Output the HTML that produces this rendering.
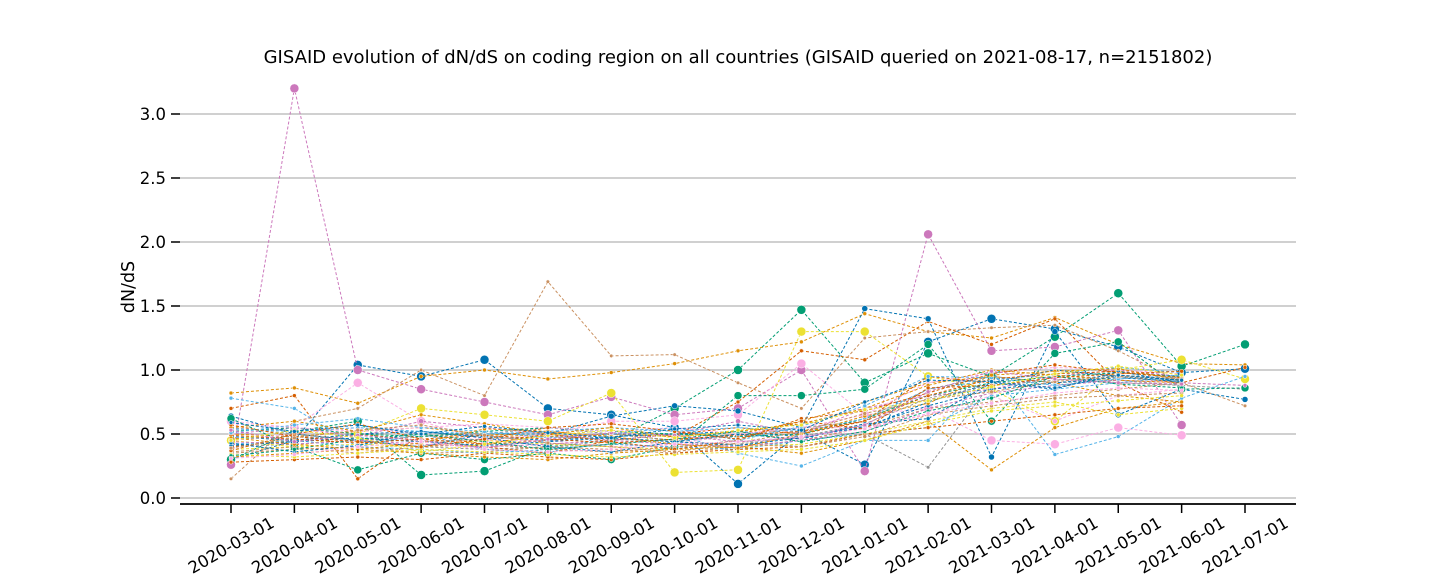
<!DOCTYPE html>
<html><head><meta charset="utf-8"><style>
body{margin:0;background:#fff}
svg{display:block;font-family:"DejaVu Sans","Liberation Sans",sans-serif}
</style></head><body>
<svg id="chart" width="1440" height="576" viewBox="0 0 1440 576">
<text x="738" y="63" text-anchor="middle" font-size="18">GISAID evolution of dN/dS on coding region on all countries (GISAID queried on 2021-08-17, n=2151802)</text>
<text transform="translate(134,287) rotate(-90)" text-anchor="middle" font-size="17.5">dN/dS</text>
<g id="grid"></g>
<g id="series"></g>
<g id="axes"></g>
</svg>
<script>
const categories=["2020-03-01","2020-04-01","2020-05-01","2020-06-01","2020-07-01","2020-08-01","2020-09-01","2020-10-01","2020-11-01","2020-12-01","2021-01-01","2021-02-01","2021-03-01","2021-04-01","2021-05-01","2021-06-01","2021-07-01"];
const yTicks=[0,0.5,1,1.5,2,2.5,3];
const yTickLabels=["0.0","0.5","1.0","1.5","2.0","2.5","3.0"];
const colors=["#0173b2","#de8f05","#029e73","#d55e00","#cc78bc","#ca9161","#fbafe4","#949494","#ece133","#56b4e9"];
const s0=[0.30,0.45,1.04,0.95,1.08,0.70,0.65,0.55,0.11,0.52,0.26,1.22,1.40,1.32,1.18,0.98,1.01];
const s1=[0.82,0.86,0.74,0.95,1.00,0.93,0.98,1.05,1.15,1.22,1.44,1.30,1.25,1.41,1.20,1.05,1.04];
const s2=[0.30,0.52,0.60,0.18,0.21,0.40,0.45,0.70,1.00,1.47,0.90,1.13,0.95,1.26,1.60,1.03,1.20];
const s3=[0.70,0.80,0.15,0.50,0.42,0.45,0.50,0.48,0.75,1.15,1.08,1.38,1.20,1.40,0.90,0.67,null];
const s4=[0.26,3.20,1.00,0.85,0.75,0.65,0.79,0.65,0.70,1.00,0.21,2.06,1.15,1.18,1.31,0.57,null];
const s5=[0.15,0.60,0.70,1.00,0.80,1.69,1.11,1.12,0.90,0.70,1.25,1.30,1.33,1.35,1.15,0.90,0.72];
const s6=[0.60,0.55,0.90,0.60,0.45,0.50,0.60,0.60,0.65,1.05,0.65,0.70,0.45,0.42,0.55,0.49,null];
const s7=[0.40,0.42,0.45,0.40,0.38,0.40,0.42,0.40,0.45,0.40,0.50,0.24,0.90,0.95,0.90,0.88,0.85];
const s8=[0.45,0.40,0.50,0.70,0.65,0.60,0.82,0.20,0.22,1.30,1.30,0.95,0.85,0.60,1.00,1.08,0.93];
const s9=[0.78,0.70,0.40,0.50,0.38,0.35,0.50,0.50,0.35,0.25,0.45,0.45,1.00,0.34,0.48,0.78,0.95];
const s10=[0.64,0.50,0.45,0.40,0.50,0.50,0.64,0.72,0.68,0.55,1.48,1.40,0.32,1.30,0.65,0.85,0.77];
const s11=[0.50,0.48,0.52,0.55,0.50,0.48,0.50,0.45,0.50,0.60,0.75,0.90,0.95,0.90,0.80,0.75,null];
const s12=[0.62,0.40,0.22,0.35,0.30,0.35,0.30,0.40,0.80,0.80,0.85,1.20,0.60,1.13,1.22,0.85,0.86];
const s13=[0.40,0.45,0.50,0.45,0.40,0.35,0.45,0.50,0.55,0.50,0.60,0.95,0.90,1.00,0.95,0.90,1.02];
const s14=[0.50,0.55,0.48,0.60,0.55,0.50,0.45,0.50,0.60,0.50,0.70,0.80,0.85,0.95,1.00,0.95,null];
const s15=[0.35,0.38,0.40,0.35,0.36,0.40,0.38,0.35,0.40,0.45,0.55,0.70,0.75,0.80,0.85,0.90,null];
const s16=[0.45,0.50,0.55,0.50,0.45,0.45,0.40,0.42,0.50,0.55,0.55,0.65,0.80,0.60,0.80,0.85,null];
const s17=[0.55,0.50,0.45,0.48,0.50,0.55,0.50,0.45,0.48,0.55,0.60,0.85,0.95,0.90,0.92,0.88,null];
const s18=[0.38,0.40,0.42,0.40,0.45,0.42,0.40,0.38,0.40,0.42,0.50,0.60,0.70,0.75,0.65,0.70,null];
const s19=[0.42,0.45,0.40,0.38,0.35,0.38,0.42,0.40,0.38,0.45,0.50,0.55,0.80,0.85,0.90,0.95,null];
const s20=[0.48,0.45,0.50,0.52,0.48,0.45,0.48,0.50,0.52,0.48,0.55,0.75,0.90,1.00,0.95,0.92,null];
const s21=[0.32,0.35,0.38,0.35,0.32,0.30,0.35,0.38,0.40,0.35,0.45,0.60,0.22,0.55,0.70,0.75,null];
const s22=[0.52,0.55,0.50,0.48,0.52,0.55,0.52,0.50,0.48,0.50,0.62,0.80,0.90,0.95,0.98,0.95,null];
const s23=[0.28,0.30,0.32,0.30,0.35,0.32,0.30,0.35,0.38,0.40,0.50,0.55,0.60,0.65,0.70,0.72,null];
const s24=[0.44,0.42,0.45,0.42,0.40,0.42,0.45,0.42,0.40,0.45,0.52,0.70,0.82,0.88,0.92,0.90,0.88];
const s25=[0.36,0.40,0.35,0.40,0.42,0.38,0.36,0.40,0.42,0.40,0.48,0.65,0.72,0.78,0.80,0.82,null];
const s26=[0.58,0.55,0.52,0.55,0.58,0.55,0.52,0.55,0.50,0.55,0.65,0.90,0.98,1.02,1.00,0.97,null];
const s27=[0.46,0.48,0.46,0.44,0.46,0.48,0.46,0.44,0.42,0.48,0.58,0.78,0.88,0.92,0.96,0.93,null];
const s28=[0.34,0.32,0.35,0.38,0.36,0.34,0.32,0.34,0.36,0.38,0.45,0.58,0.68,0.72,0.76,0.80,null];
const s29=[0.54,0.52,0.55,0.52,0.50,0.52,0.55,0.52,0.55,0.52,0.62,0.85,0.92,0.97,1.02,0.98,null];
const s30=[0.41,0.44,0.47,0.44,0.41,0.44,0.47,0.44,0.41,0.47,0.56,0.72,0.85,0.90,0.94,0.91,null];
const s31=[0.49,0.46,0.43,0.46,0.49,0.46,0.43,0.46,0.49,0.52,0.60,0.80,0.93,0.97,0.99,0.94,null];
const s32=[0.55,0.60,0.52,0.65,0.58,0.50,0.55,0.48,0.52,0.58,0.70,0.88,1.00,0.96,0.92,0.90,null];
const s33=[0.37,0.50,0.58,0.46,0.42,0.50,0.44,0.38,0.45,0.62,0.68,0.82,0.97,1.04,0.98,0.94,null];
const s34=[0.43,0.36,0.41,0.52,0.47,0.40,0.36,0.44,0.50,0.46,0.58,0.62,0.90,0.85,0.99,0.90,null];
const s35=[0.51,0.57,0.62,0.55,0.52,0.47,0.50,0.55,0.45,0.56,0.72,0.95,0.94,0.88,0.93,0.96,null];
const s36=[0.33,0.38,0.46,0.50,0.44,0.38,0.42,0.46,0.52,0.44,0.52,0.68,0.78,0.95,0.89,0.86,null];
const s37=[0.47,0.42,0.38,0.43,0.54,0.52,0.48,0.42,0.39,0.50,0.64,0.74,0.96,0.99,1.01,0.92,null];
const s38=[0.57,0.48,0.44,0.40,0.46,0.55,0.58,0.52,0.46,0.60,0.54,0.86,0.88,0.94,0.97,0.99,null];
const s39=[0.39,0.47,0.53,0.57,0.49,0.43,0.40,0.36,0.43,0.52,0.66,0.77,0.83,0.91,0.95,0.93,null];
const s40=[0.53,0.44,0.49,0.45,0.39,0.46,0.51,0.49,0.44,0.47,0.57,0.83,0.99,0.93,0.90,0.89,null];
const s41=[0.45,0.53,0.47,0.36,0.42,0.49,0.53,0.47,0.53,0.57,0.69,0.76,0.87,0.97,1.03,0.96,null];
const s42=[0.31,0.34,0.40,0.44,0.38,0.36,0.38,0.42,0.44,0.48,0.54,0.66,0.74,0.82,0.86,0.84,null];
const s43=[0.59,0.52,0.57,0.50,0.56,0.51,0.47,0.54,0.57,0.53,0.75,0.92,0.91,0.86,0.96,0.92,null];
const seriesList=[s0,s1,s2,s3,s4,s5,s6,s7,s8,s9,s10,s11,s12,s13,s14,s15,s16,s17,s18,s19,s20,s21,s22,s23,s24,s25,s26,s27,s28,s29,s30,s31,s32,s33,s34,s35,s36,s37,s38,s39,s40,s41,s42,s43];
const seriesColor=[0,1,2,3,4,5,6,7,8,9,0,1,2,3,4,5,6,7,8,9,0,1,2,3,4,5,6,7,8,9,0,3,1,3,0,9,2,1,3,5,4,8,6,0];
const markerSize=[4.5,2,4.5,2,4.5,1.8,4.5,1.8,4.5,2,3,2,4,2,2.5,2,2.5,2,2,2,2,2,2,2,2,2,2,2,2,2,2,2,2,2,2,2,2,2,2,2,2,2,2,2];

const NS="http://www.w3.org/2000/svg";
const x0=231,dx=(1245-231)/16,yZero=498,yUnit=128;
const xs=i=>x0+i*dx, ys=v=>yZero-v*yUnit;
function mk(t,a,p){const e=document.createElementNS(NS,t);for(const k in a)e.setAttribute(k,a[k]);p.appendChild(e);return e;}
const grid=document.getElementById('grid'),ser=document.getElementById('series'),axes=document.getElementById('axes');
yTicks.forEach((v,i)=>{
  const g=mk('line',{x1:180,x2:1296,y1:ys(v),y2:ys(v),stroke:'#c0c0c0','stroke-width':1.5},grid);
  
  
  const t=mk('line',{x1:171,x2:180,y1:ys(v),y2:ys(v),stroke:'#000','stroke-width':1.5},axes);
  
  
  const l=mk('text',{x:166,y:ys(v)+6,'text-anchor':'end','font-size':16.5},axes);
  l.textContent=yTickLabels[i];
  
  
});
const sp=mk('line',{x1:180,x2:1296,y1:504,y2:504,stroke:'#000','stroke-width':1.8},axes);


categories.forEach((c,i)=>{
  const t=mk('line',{x1:xs(i),x2:xs(i),y1:504,y2:513,stroke:'#000','stroke-width':1.5},axes);
  
  
  const l=mk('text',{transform:`translate(${xs(i)},${545}) rotate(-30)`,'text-anchor':'middle','font-size':16.5,y:6},axes);
  l.textContent=c;
  
  
});
seriesList.forEach((s,k)=>{
  const col=colors[seriesColor[k]];
  const g=mk('g',{},ser);
  
  
  let d='';
  s.forEach((v,i)=>{if(v!==null)d+=(d?'L':'M')+xs(i).toFixed(1)+','+ys(v).toFixed(1);});
  const p=mk('path',{d:d,fill:'none',stroke:col,'stroke-width':1,'stroke-dasharray':'3,2'},g);
  
  
  s.forEach((v,i)=>{if(v===null)return;
    const c=mk('circle',{cx:xs(i),cy:ys(v),r:markerSize[k],fill:col,stroke:'#fff','stroke-width':0.5},g);
    
    
  });
});
</script>
</body></html>
